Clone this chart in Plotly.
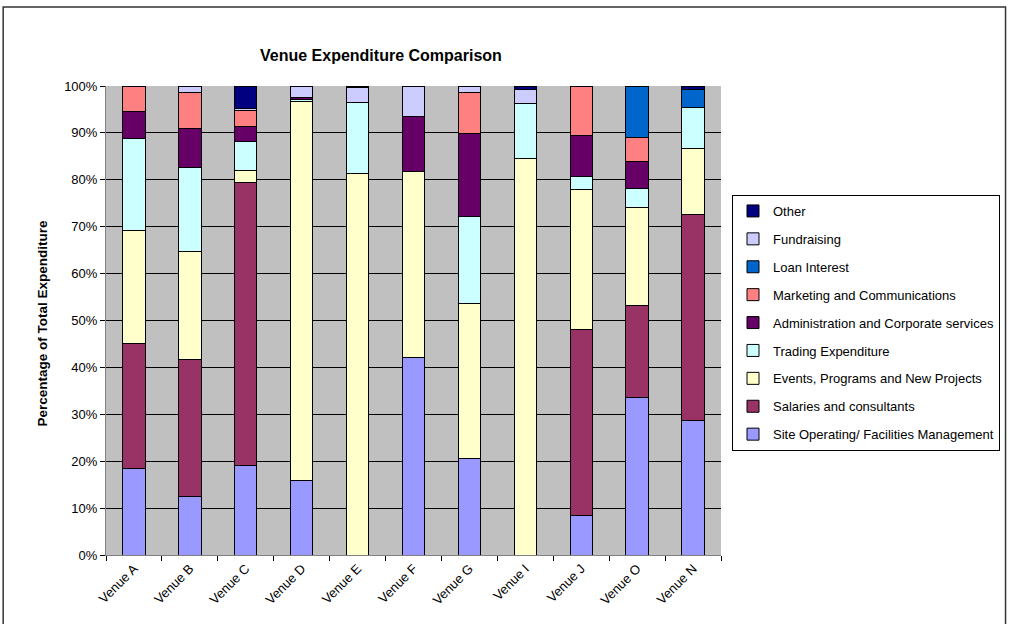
import plotly.graph_objects as go

venues = ["Venue A", "Venue B", "Venue C", "Venue D", "Venue E", "Venue F",
          "Venue G", "Venue I", "Venue J", "Venue O", "Venue N"]

# Share of total expenditure (%) per venue, bottom of stack first
site_operating = [18.5, 12.4, 19.0, 15.8, 0.0, 42.1, 20.5, 0.0, 8.4, 33.5, 28.6]
salaries = [26.5, 29.2, 60.5, 0.0, 0.0, 0.0, 0.0, 0.0, 39.7, 19.6, 44.0]
events_programs = [24.2, 23.1, 2.5, 80.8, 81.4, 39.7, 33.2, 84.5, 29.9, 21.0, 14.1]
trading = [19.7, 18.0, 6.1, 0.5, 15.0, 0.0, 18.4, 11.7, 2.7, 4.1, 8.7]
administration = [5.6, 8.3, 3.3, 0.5, 0.0, 11.7, 17.8, 0.0, 8.7, 5.8, 0.0]
marketing = [5.5, 7.7, 3.3, 0.0, 0.0, 0.0, 8.8, 0.0, 10.6, 5.0, 0.0]
loan_interest = [0.0, 0.0, 0.0, 0.0, 0.0, 0.0, 0.0, 0.0, 0.0, 11.0, 3.9]
fundraising = [0.0, 1.3, 0.6, 2.4, 3.2, 6.5, 1.3, 3.1, 0.0, 0.0, 0.0]
other = [0.0, 0.0, 4.7, 0.0, 0.4, 0.0, 0.0, 0.7, 0.0, 0.0, 0.7]

series = [
    ("Site Operating/ Facilities Management", site_operating, "#9999FF"),
    ("Salaries and consultants", salaries, "#993366"),
    ("Events, Programs and New Projects", events_programs, "#FFFFCC"),
    ("Trading Expenditure", trading, "#CCFFFF"),
    ("Administration and Corporate services", administration, "#660066"),
    ("Marketing and Communications", marketing, "#FF8080"),
    ("Loan Interest", loan_interest, "#0066CC"),
    ("Fundraising", fundraising, "#CCCCFF"),
    ("Other", other, "#000080"),
]

FONT = "Arial, Liberation Sans, sans-serif"

fig = go.Figure()
n = len(series)
for i, (name, vals, color) in enumerate(series):
    fig.add_trace(go.Bar(
        x=venues,
        y=[v / 100 for v in vals],
        name=name,
        legendgroup=f"g{i}",
        legendrank=n - i,  # top of stack listed first
        marker=dict(color=color, line=dict(color="black", width=1)),
        width=0.4,
    ))

# plot-area geometry in pixels, used to place the frame and labels
L, R, T, B = 106, 722, 86, 555
W, H = R - L, B - T


def px_x(p):
    return (p - L) / W


def px_y(p):
    return (B - p) / H


fig.update_layout(
    width=1010,
    height=624,
    margin=dict(l=L, r=1010 - R, t=T, b=624 - B),
    barmode="stack",
    paper_bgcolor="white",
    plot_bgcolor="#C0C0C0",
    font=dict(family=FONT, size=13, color="black"),
    showlegend=True,
    legend=dict(
        x=px_x(1000), y=px_y(195), xanchor="right", yanchor="top",
        bordercolor="black", borderwidth=1, bgcolor="white",
        font=dict(size=13, family=FONT),
        traceorder="grouped",
        tracegroupgap=8,
    ),
    xaxis=dict(
        type="category",
        tickangle=-45,
        ticks="outside",
        tickson="boundaries",
        ticklen=5,
        tickcolor="black",
        showline=True,
        linecolor="#808080",
        linewidth=1,
        showgrid=False,
        tickfont=dict(size=13),
    ),
    yaxis=dict(
        range=[0, 1],
        dtick=0.1,
        tickformat=".0%",
        ticks="outside",
        ticklen=5,
        tickcolor="black",
        showline=True,
        linecolor="#808080",
        linewidth=1,
        showgrid=True,
        gridcolor="black",
        gridwidth=1,
        zeroline=False,
        tickfont=dict(size=13),
    ),
)

fig.add_annotation(
    text="<b>Venue Expenditure Comparison</b>",
    xref="paper", yref="paper", x=px_x(381), y=px_y(45),
    showarrow=False, font=dict(size=16, family=FONT),
)
fig.add_annotation(
    text="<b>Percentage of Total Expenditure</b>",
    xref="paper", yref="paper", x=px_x(32), y=px_y(323),
    textangle=-90, showarrow=False, font=dict(size=13.5, family=FONT),
)

# chart-area frame
fig.add_shape(
    type="rect", xref="paper", yref="paper",
    x0=px_x(3), x1=px_x(1007), y0=px_y(640), y1=px_y(7),
    line=dict(color="#333333", width=1.5), fillcolor="rgba(0,0,0,0)",
    layer="below",
)

fig.write_html("out.html")
